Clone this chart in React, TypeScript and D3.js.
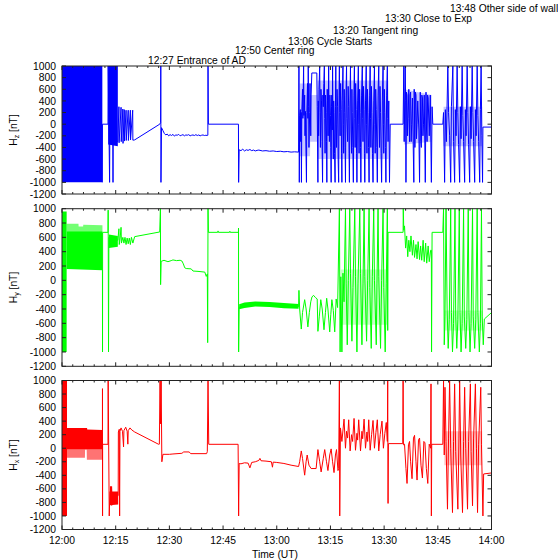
import React from 'react';
import * as d3 from 'd3';

const WIDTH = 558;
const HEIGHT = 560;
const X0 = 62;
const X1 = 491.5;
const FONT = 'Liberation Sans, Arial, Helvetica, sans-serif';

// minutes after 12:00 UT
const xMajorMinutes = [0, 15, 30, 45, 60, 75, 90, 105, 120];
const xMajorLabels = ['12:00', '12:15', '12:30', '12:45', '13:00', '13:15', '13:30', '13:45', '14:00'];
const xMinorStep = 3;
const yTickValues = [1000, 800, 600, 400, 200, 0, -200, -400, -600, -800, -1000, -1200];

const annotationTexts = [
  '12:27 Entrance of AD',
  '12:50 Center ring',
  '13:06 Cycle Starts',
  '13:20 Tangent ring',
  '13:30 Close to Exp',
  '13:48 Other side of wall',
];
const annotationPos: [number, number][] = [
  [148, 63.5],
  [235, 53.5],
  [288, 45],
  [333, 33.5],
  [385, 22],
  [450, 12],
];

type Pt = [number, number];
type BandPt = [number, number, number];

// ---------------- Hz ----------------
const hzBands: BandPt[][] = [
  [[0, -1000, 1000], [11.27, -1000, 1000]],
  [[12.9, -350, 1000], [15.6, -380, 1000]],
];
const hzLightBands: BandPt[][] = [
  [[66.4, -550, 700], [69.3, -550, 700], [69.35, -300, 500], [71.3, -300, 500], [71.4, -600, 750], [91.2, -600, 750]],
  [[95.6, -350, 600], [103.3, -300, 500]],
  [[106.6, -380, 300], [117.4, -380, 300]],
];
const hzLine: Pt[] = [
  [11.27, -1000], [11.3, 0], [12.85, 0], [12.9, 1000], [13.3, -1000], [13.35, -300], [14.2, -300],
  [14.25, -1000], [14.3, -300], [15.6, -300],
  [15.9, 300], [15.95, -320], [16.5, 290], [16.55, -300], [17.0, 260], [17.05, -330], [17.4, 250],
  [17.45, -290], [17.9, 240], [17.95, -280], [18.5, 240], [18.55, -280], [19.1, 240], [19.15, -270],
  [19.75, 240], [19.8, -275], [20.3, -270],
  [27.3, 0], [27.55, 25], [27.6, 1000], [27.65, -1000], [27.8, -60], [28.2, -110], [28.6, -160],
  [29.0, -185], [29.4, -170], [29.8, -200], [30.2, -180], [30.6, -195], [31.0, -175], [31.4, -205],
  [31.8, -185], [32.2, -190], [32.6, -175], [33.0, -200], [33.4, -190], [33.8, -180], [34.2, -200],
  [34.6, -185], [35.0, -190], [35.4, -180], [35.8, -200], [36.2, -190], [36.6, -185], [37.0, -195],
  [37.4, -180], [37.8, -195], [38.2, -185], [38.6, -200], [39.0, -190], [39.4, -185], [39.8, -195],
  [40.2, -190], [40.6, -195], [40.75, -190], [40.8, 1000], [40.9, 0], [49.3, 0], [49.35, -1000],
  [49.5, -440], [50.0, -455], [50.5, -430], [51.0, -460], [51.5, -440], [52.0, -450], [52.5, -435],
  [53.0, -455], [53.5, -445], [54.0, -460], [54.5, -450], [55.0, -445], [56, -460], [57, -455],
  [58, -465], [59, -460], [60, -470], [61, -465], [62, -475], [63, -470], [64, -480], [65, -475],
  [66.1, -480],
  [66.2, 1000], [66.3, -1000], [66.4, 150], [66.6, 250], [66.7, -300], [66.8, 200], [66.9, -1000],
  [67.0, 220], [67.2, 600], [67.3, 100], [67.5, 1000], [67.6, 150], [67.8, 500], [67.9, -200],
  [68.0, 220], [68.3, -1000], [68.4, 200], [68.6, 700], [68.7, 100], [68.8, 1000], [68.9, 300],
  [69.0, -400], [69.2, 200], [69.3, 700], [69.5, -200], [69.6, 500], [69.8, 880], [71.2, 880],
  [71.3, 300], [71.5, -1000], [71.6, 400], [71.7, -200], [71.8, 600], [72.0, 1000], [72.1, 200],
  [72.2, -400], [72.35, 600], [72.5, 400], [72.65, -300], [72.8, -1000], [72.9, 500], [73.0, 300],
  [73.15, 700], [73.3, 1000], [73.4, 100], [73.5, -500], [73.65, 500], [73.8, 200], [73.9, -300],
  [74.0, -1000], [74.1, 600], [74.2, 400], [74.35, -200], [74.5, 1000], [74.6, 200], [74.7, -300],
  [74.85, 500], [75.0, 150], [75.1, -400], [75.2, -1000], [75.3, 300], [75.4, 500], [75.5, -100],
  [75.6, 1000], [75.7, 100], [75.8, -600], [75.9, 400], [76.0, 200], [76.15, -500], [76.3, -1000],
  [76.4, 300], [76.5, 1000], [76.6, 0], [76.7, -400], [76.85, 600], [77.0, 300], [77.15, -600],
  [77.3, -1000], [77.4, 500], [77.5, 1000], [77.6, 200], [77.7, -200], [77.85, 700], [78.0, 250],
  [78.1, -500], [78.2, -1000], [78.3, 400], [78.5, 1000], [78.6, 0], [78.7, -500], [78.85, 600],
  [79.0, 200], [79.1, -400], [79.2, -1000], [79.35, 500], [79.5, 1000], [79.6, 100], [79.8, -300],
  [79.95, 650], [80.1, 300], [80.2, -500], [80.3, -1000], [80.45, 400], [80.6, 1000], [80.75, -100],
  [80.9, -500], [81.0, 600], [81.1, 200], [81.25, -400], [81.4, -1000], [81.55, 500], [81.7, 1000],
  [81.8, 100], [81.9, -400], [82.05, 700], [82.2, 250], [82.3, -500], [82.4, -1000], [82.6, 400],
  [82.8, 1000], [82.9, 0], [83.0, -500], [83.15, 600], [83.3, 200], [83.4, -400], [83.5, -1000],
  [83.7, 500], [83.9, 1000], [84.0, 100], [84.1, -300], [84.25, 650], [84.4, 250], [84.5, -500],
  [84.6, -1000], [84.8, 400], [85.0, 1000], [85.1, 0], [85.2, -500], [85.35, 600], [85.5, 200],
  [85.65, -400], [85.8, -1000], [85.95, 500], [86.1, 1000], [86.2, 100], [86.3, -400], [86.45, 650],
  [86.6, 200], [86.75, -500], [86.9, -1000], [87.1, 400], [87.3, 1000], [87.4, 0], [87.5, -500],
  [87.65, 600], [87.8, 250], [87.95, -400], [88.1, -1000], [88.3, 500], [88.5, 1000], [88.6, 100],
  [88.7, -400], [88.85, 650], [89.0, 200], [89.15, -500], [89.3, -1000], [89.5, 400], [89.7, 1000],
  [89.8, 0], [89.9, -500], [90.05, 600], [90.2, 200], [90.35, -400], [90.5, -1000], [90.7, 500],
  [90.9, 1000], [91.0, 100], [91.1, -300], [91.3, 400], [91.5, -1000], [91.7, 0], [95.3, 0],
  [95.5, 1000], [95.6, -300], [95.9, 1000], [96.0, 400], [96.1, -1000], [96.25, 550], [96.4, 500],
  [96.55, -200], [96.7, 100], [96.9, 600], [97.1, -300], [97.25, 500], [97.4, 550], [97.55, -300],
  [97.7, 0], [97.9, 450], [98.3, -1000], [98.4, 600], [98.6, -400], [98.75, 550], [98.9, 500],
  [99.05, -250], [99.2, 0], [99.4, 400], [99.7, -100], [99.9, -1000], [100.1, 550], [100.25, -300],
  [100.4, -400], [100.55, 500], [100.7, 450], [100.85, -200], [101.0, 0], [101.2, 500],
  [101.5, -1000], [101.7, 550], [101.85, -100], [102.0, -300], [102.15, 500], [102.3, 450],
  [102.6, -200], [102.9, 500], [103.2, -1000], [103.4, 300], [103.6, 0], [106.4, 0],
  [106.6, 200], [106.9, -1000], [107.1, 250], [107.4, -300], [107.8, 1000], [108.0, 200], [108.3, -200],
  [108.6, -1000], [108.8, 300], [109.2, 1000], [109.4, -300], [109.7, -1000], [109.9, 250],
  [110.1, -200], [110.4, 1000], [110.6, 200], [110.8, -350], [111.1, -1000], [111.3, 300],
  [111.5, -250], [111.8, 1000], [112.0, 150], [112.2, -300], [112.5, -1000], [112.7, 250],
  [112.9, -200], [113.2, 1000], [113.4, 200], [113.6, -350], [113.9, -1000], [114.1, 300],
  [114.3, -250], [114.6, 1000], [114.8, 200], [115.0, -300], [115.3, -1000], [115.5, 250],
  [115.7, -200], [116.0, 1000], [116.2, 150], [116.4, -300], [116.7, -1000], [116.9, 250],
  [117.1, 1000], [117.3, -200], [117.5, -1000], [117.6, -50], [120, -50],
];

// ---------------- Hy ----------------
const hyBands: BandPt[][] = [
  [[0, -1000, 960], [1.3, -1000, 960]],
  [[1.3, 160, 685], [11.3, 140, 685]],
  [[13.1, 450, 640], [15.6, 470, 620]],
  [[49.5, -405, -335], [51, -385, -310], [54, -365, -295], [58, -372, -302], [62, -388, -318], [66.1, -398, -330]],
];
const hyLightBands: BandPt[][] = [
  [[1.3, 685, 790], [4.6, 685, 790], [4.65, 685, 750], [5.9, 685, 750], [5.95, 685, 775], [11.3, 685, 770]],
  [[77.9, -620, 150], [91.0, -620, 150]],
  [[106.8, -700, -420], [117.6, -700, -420]],
];
const hyLine: Pt[] = [
  [11.3, 140], [11.32, -1000], [11.35, 670], [12.85, 670], [12.9, 980], [13.0, -1000], [13.1, 600],
  [15.6, 560], [15.9, 720], [16.0, 500], [16.3, 620], [16.5, 740], [16.6, 520], [17.0, 600],
  [17.3, 520], [17.6, 600], [17.9, 500], [18.2, 590], [18.5, 510], [18.8, 590], [19.1, 500],
  [19.4, 600], [19.8, 520], [20.3, 610], [27.3, 675], [27.5, 1000], [27.55, -60], [27.7, 265],
  [28.5, 280], [29.6, 260], [30.5, 275], [31.0, 285], [32.0, 275], [33.0, 280], [33.5, 270],
  [33.9, 230], [34.3, 175], [34.7, 165], [36.1, 160], [36.6, 130], [38.0, 125], [39.9, 115],
  [40.3, 55], [40.6, 90], [40.7, -870], [40.8, 1000], [40.9, 670], [43.5, 670], [43.6, 690],
  [43.7, 670], [46.8, 670], [46.9, 685], [47.0, 670], [49.3, 670], [49.32, 730], [49.35, -1000],
  [49.5, -375], [52, -345], [55, -330], [58, -338], [62, -352], [66.1, -370],
  [66.2, -140], [66.4, -400], [66.85, -680], [67.2, -450], [67.8, -270], [68.2, -400], [68.7, -650],
  [69.1, -450], [69.5, -300], [69.85, -230], [70.3, -210], [70.8, -240], [71.3, -260], [71.5, -712],
  [71.9, -500], [72.3, -270], [72.7, -400], [73.2, -690], [73.6, -450], [73.95, -250], [74.3, -400],
  [74.8, -720], [75.1, -480], [75.4, -270], [75.8, -420], [76.2, -720], [76.6, -260], [77.0, -380],
  [77.5, 1000], [77.7, -1000], [77.9, 50], [78.2, -1000], [78.5, 100], [78.8, -300], [79.2, 1000],
  [79.4, -50], [79.7, -900], [80.0, 0], [80.4, 1000], [80.6, 100], [81.0, -850], [81.3, -100],
  [81.8, 1000], [82.0, 50], [82.4, -1000], [82.7, -50], [83.2, 1000], [83.4, 100], [83.8, -900],
  [84.1, -50], [84.4, 1000], [84.6, 50], [85.1, -850], [85.4, 0], [85.8, 1000], [86.0, -100],
  [86.4, -950], [86.7, 50], [87.1, 1000], [87.3, 0], [87.8, -900], [88.0, -50], [88.3, 1000],
  [88.5, 50], [89.0, -950], [89.3, 0], [89.7, 1000], [89.9, -100], [90.3, -1000], [90.6, -50],
  [90.9, 1000], [91.0, -700], [91.1, 670], [95.3, 670], [95.35, 1000], [95.5, 700], [95.7, 760],
  [96.0, 450], [96.3, 620], [96.6, 330], [96.9, 560], [97.2, 400], [97.5, 620], [97.9, 350],
  [98.2, 560], [98.5, 320], [98.9, 500], [99.2, 300], [99.5, 540], [99.9, 290], [100.2, 480],
  [100.5, 280], [100.9, 560], [101.2, 260], [101.6, 520], [101.9, 240], [102.3, 480], [102.6, 260],
  [103.0, 420], [103.2, 420], [103.25, -1000], [103.4, 670], [106.4, 670],
  [106.6, 1000], [106.8, -900], [107.0, -500], [107.3, 1000], [107.6, -400], [107.9, -950],
  [108.2, -550], [108.6, 1000], [108.8, -450], [109.1, -1000], [109.4, -600], [109.8, 1000],
  [110.0, -500], [110.3, -950], [110.6, -550], [111.0, 1000], [111.2, -450], [111.5, -1000],
  [111.8, -600], [112.2, 1000], [112.4, -500], [112.8, -950], [113.1, -550], [113.5, 1000],
  [113.7, -450], [114.0, -1000], [114.3, -600], [114.7, 1000], [114.9, -500], [115.3, -950],
  [115.6, -550], [116.0, 1000], [116.2, -450], [116.6, -1000], [116.9, -600], [117.2, 1000],
  [117.4, -500], [117.7, -900], [118.0, -540], [120, -450],
];

// ---------------- Hx ----------------
const hxBands: BandPt[][] = [
  [[0, -1000, 1000], [1.4, -1000, 1000]],
  [[1.4, -20, 300], [7.0, -20, 300], [7.05, -20, 275], [11.3, -20, 270]],
  [[13.4, -840, -560], [14.0, -850, -560], [14.05, -840, -640], [15.7, -830, -640]],
];
const hxLightBands: BandPt[][] = [
  [[1.4, -140, -20], [6.4, -140, -20], [6.45, -20, -20], [6.9, -20, -20], [6.95, -170, -20], [11.3, -170, -20]],
  [[106.8, -250, 250], [117.4, -250, 250]],
];
const hxLine: Pt[] = [
  [11.3, 270], [11.31, 880], [11.33, -1000], [11.35, 58], [12.85, 58], [12.9, 1000], [13.2, -1000],
  [13.4, -640], [15.7, -700], [15.75, 240], [16.0, 280], [16.1, -1000], [16.2, 250], [16.5, 300],
  [16.9, 250], [17.2, 20], [17.3, 260], [17.8, 310], [18.2, 250], [18.4, 60], [18.5, 260],
  [19.0, 300], [19.5, 270], [20.3, 240], [27.0, 58], [27.2, 60], [27.4, 1000], [27.5, 360],
  [27.7, 1000], [27.9, -200], [28.2, -90], [30, -90], [31, -85], [33.5, -75], [34.0, -55],
  [35.5, -55], [36.0, -80], [40.4, -80], [40.6, -50], [40.8, 1000], [41.0, 58], [49.2, 58],
  [49.35, -1000], [49.5, -226], [50, -230], [51, -215], [52, -220], [52.5, -290], [53, -210],
  [54, -200], [55.0, -180], [55.3, -150], [55.6, -185], [57, -190], [58.5, -200], [58.8, -280],
  [59, -205], [60, -210], [62, -225], [64, -250], [66.1, -270],
  [66.4, -200], [66.85, -40], [67.2, -150], [67.8, -398], [68.2, -200], [68.5, -100], [69.0, -250],
  [69.6, -300], [71.0, -300], [71.5, -20], [72.0, -200], [72.4, -350], [73.0, -150], [73.4, -20],
  [73.9, -200], [74.3, -330], [74.8, -100], [75.2, -10], [75.6, -200], [76.0, -360], [76.4, -100],
  [76.7, -20], [77.1, -330], [77.3, -300], [77.5, 1000], [77.6, -1000], [77.8, 300],
  [78.2, 100], [78.8, 430], [79.2, 0], [79.5, 250], [79.8, 150], [80.1, 420], [80.5, -40],
  [80.9, 200], [81.2, 100], [81.6, 440], [82.0, -30], [82.4, 220], [82.6, 120], [82.9, 420],
  [83.4, -40], [83.8, 250], [84.0, 140], [84.4, 430], [84.8, 0], [85.2, 240], [85.4, 100],
  [85.7, 420], [86.1, -30], [86.5, 200], [86.9, 410], [87.3, 0], [87.7, 230], [88.1, 420],
  [88.5, -40], [88.9, 200], [89.4, 400], [89.8, 0], [90.2, 220], [90.6, 380], [90.9, 100],
  [91.0, 1000], [91.1, -815], [91.2, 68], [95.2, 68], [95.3, 1000], [95.4, 50],
  [95.7, 60], [96.1, -300], [96.4, -520], [96.8, 50], [97.1, 100], [97.4, -200], [97.8, -450],
  [98.2, 150], [98.5, 190], [98.9, -200], [99.2, -470], [99.6, 120], [99.9, 150], [100.3, -250],
  [100.7, -440], [101.1, 100], [101.4, 80], [101.8, -300], [102.2, -520], [102.6, 60], [103.0, 0],
  [103.1, 950], [103.2, -1000], [103.3, 58], [106.4, 58],
  [106.6, 1000], [106.8, -100], [107.0, 900], [107.3, 100], [107.7, -900], [108.0, 150],
  [108.3, 1000], [108.6, 0], [109.1, -950], [109.4, 100], [109.7, 950], [110.0, -50], [110.6, -900],
  [110.9, 150], [111.1, 1000], [111.4, -100], [111.9, -950], [112.2, 100], [112.5, 900], [112.8, 0],
  [113.3, -900], [113.6, 100], [114.1, 950], [114.3, -50], [114.7, -850], [115.0, 150], [115.5, 950],
  [115.8, 0], [116.1, -950], [116.4, 50], [117.0, 900], [117.2, 50], [117.6, -1000], [117.8, -380],
  [120, -365],
];

const lightOpacity = [0.55, 0.22, 0.22, 0.22];

const panels = [
  { sub: 'z', color: '#0000ff', line: hzLine, bands: hzBands, light: hzLightBands, top: 66, bottom: 194 },
  { sub: 'y', color: '#00ff00', line: hyLine, bands: hyBands, light: hyLightBands, top: 208.7, bottom: 366.3 },
  { sub: 'x', color: '#ff0000', line: hxLine, bands: hxBands, light: hxLightBands, top: 380.5, bottom: 529.5 },
];

export default function App() {
  const x = d3.scaleLinear().domain([0, 120]).range([X0, X1]);
  const minorTicks = d3.range(0, 121, xMinorStep).filter((m) => m % 15 !== 0);
  const frameColor = '#222';
  return (
    <svg
      width={WIDTH}
      height={HEIGHT}
      style={{ position: 'absolute', left: 0, top: 0, background: '#fff' }}
      fontFamily={FONT}
    >
      <rect x={0} y={0} width={WIDTH} height={HEIGHT} fill="#fff" />
      {panels.map((p, i) => {
        const y = d3.scaleLinear().domain([-1200, 1000]).range([p.bottom, p.top]);
        const line = d3.line<Pt>().x((d) => x(d[0])).y((d) => y(d[1]));
        const area = d3
          .area<BandPt>()
          .x((d) => x(d[0]))
          .y0((d) => y(d[1]))
          .y1((d) => y(d[2]));
        const cy = (p.top + p.bottom) / 2;
        return (
          <g key={i}>
            {p.light.map((b, j) => (
              <path
                key={'l' + j}
                d={area(b) || ''}
                fill={p.color}
                fillOpacity={i === 0 ? 0.22 : lightOpacity[j]}
              />
            ))}
            {p.bands.map((b, j) => (
              <path key={'b' + j} d={area(b) || ''} fill={p.color} />
            ))}
            <path d={line(p.line) || ''} fill="none" stroke={p.color} strokeWidth={1} strokeLinejoin="miter" />
            <rect
              x={X0}
              y={p.top}
              width={X1 - X0}
              height={p.bottom - p.top}
              fill="none"
              stroke={frameColor}
              strokeWidth={1}
            />
            {yTickValues.map((v) => (
              <g key={'yt' + v}>
                <line x1={X0} x2={X0 + 4} y1={y(v)} y2={y(v)} stroke={frameColor} strokeWidth={1} />
                <line x1={X1} x2={X1 - 4} y1={y(v)} y2={y(v)} stroke={frameColor} strokeWidth={1} />
                <text x={56} y={y(v)} dy="0.35em" textAnchor="end" fontSize={10.3} fill="#000">
                  {v}
                </text>
              </g>
            ))}
            {xMajorMinutes.map((m) => (
              <g key={'xt' + m}>
                <line x1={x(m)} x2={x(m)} y1={p.bottom} y2={p.bottom - 4} stroke={frameColor} strokeWidth={1} />
                <line x1={x(m)} x2={x(m)} y1={p.top} y2={p.top + 4} stroke={frameColor} strokeWidth={1} />
              </g>
            ))}
            {minorTicks.map((m) => (
              <g key={'xm' + m}>
                <line x1={x(m)} x2={x(m)} y1={p.bottom} y2={p.bottom - 2} stroke={frameColor} strokeWidth={1} />
                <line x1={x(m)} x2={x(m)} y1={p.top} y2={p.top + 2} stroke={frameColor} strokeWidth={1} />
              </g>
            ))}
            <text transform={`translate(17, ${cy}) rotate(-90)`} textAnchor="middle" fontSize={10.3} fill="#000">
              H
              <tspan dy={2} fontSize={7}>
                {p.sub}
              </tspan>
              <tspan dy={-2}> [nT]</tspan>
            </text>
          </g>
        );
      })}
      {xMajorMinutes.map((m, i) => (
        <text key={'xl' + m} x={x(m)} y={544} textAnchor="middle" fontSize={10.3} fill="#000">
          {xMajorLabels[i]}
        </text>
      ))}
      <text x={275} y={558} textAnchor="middle" fontSize={10.3} fill="#000">
        Time (UT)
      </text>
      {annotationTexts.map((t, i) => (
        <text key={'an' + i} x={annotationPos[i][0]} y={annotationPos[i][1]} fontSize={10.3} fill="#000">
          {t}
        </text>
      ))}
    </svg>
  );
}
